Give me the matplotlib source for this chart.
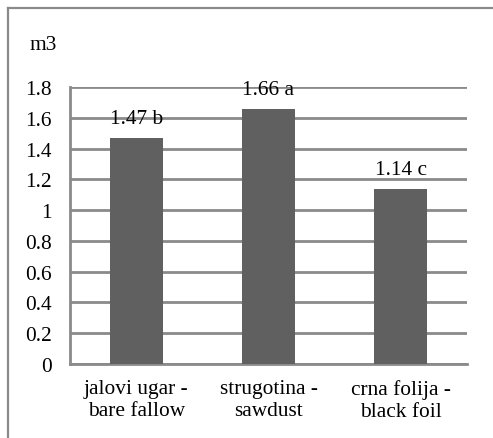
import matplotlib.pyplot as plt
from matplotlib.lines import Line2D

# data
kategorije = ["jalovi ugar -\nbare fallow", "strugotina -\nsawdust", "crna folija -\nblack foil"]
vrijednosti = [1.47, 1.66, 1.14]
oznake = ["1.47 b", "1.66 a", "1.14 c"]
y_ticks = [0, 0.2, 0.4, 0.6, 0.8, 1, 1.2, 1.4, 1.6, 1.8]

plt.rcParams['font.family'] = ['Liberation Serif', 'DejaVu Serif']
fs = 15.4

fig = plt.figure(figsize=(4.93, 4.39), dpi=100)
W, H = 493, 439
ax = fig.add_axes([70 / W, 1 - 365 / H, (467 - 70) / W, (365 - 88) / H])

siva = "#8a8a8a"
x = range(len(kategorije))
ax.bar(x, vrijednosti, width=0.4, color="#606060", zorder=3)

for i, (v, t) in enumerate(zip(vrijednosti, oznake)):
    ax.annotate(t, (i, v), xytext=(0, 10), textcoords="offset pixels",
                ha="center", va="bottom", fontsize=fs, zorder=4)

ax.set_xlim(-0.5, 2.5)
ax.set_ylim(0, 1.8)
ax.set_yticks(y_ticks)
ax.set_yticklabels([f"{t:g}" for t in y_ticks], fontsize=fs)
ax.set_xticks(list(x))
ax.set_xticklabels(kategorije, fontsize=fs, linespacing=1.2)
ax.tick_params(length=0)
ax.tick_params(axis="x", pad=11)
ax.tick_params(axis="y", pad=13)
ax.yaxis.grid(True, color=siva, linewidth=2, zorder=0)

for s in ["top", "right"]:
    ax.spines[s].set_visible(False)
for s in ["left", "bottom"]:
    ax.spines[s].set_color(siva)
    ax.spines[s].set_linewidth(2)

fig.text(29 / W, 1 - 46 / H, "m3", fontsize=fs, va="center", ha="left")

# okvir oko grafa
fig.add_artist(Line2D([8 / W, 8 / W], [0, 1 - 9 / H], color=siva, linewidth=1.6,
                      transform=fig.transFigure))
fig.add_artist(Line2D([8 / W, 1], [1 - 9 / H, 1 - 9 / H], color=siva, linewidth=1.6,
                      transform=fig.transFigure))

fig.savefig("out.png", dpi=100)
